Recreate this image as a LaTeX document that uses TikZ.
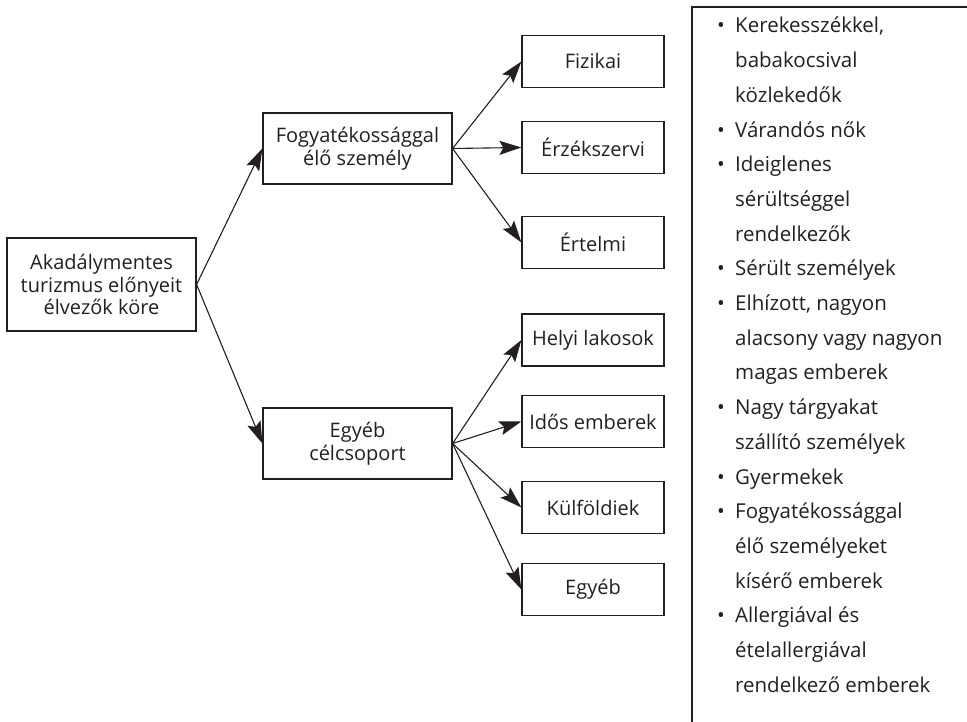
\documentclass[tikz,border=0pt]{standalone}
\usepackage{fontspec}
\setmainfont{Open Sans}
\usetikzlibrary{arrows.meta}
\definecolor{INK}{HTML}{231F20}
\tikzstyle{rootbox} = [rectangle, minimum width=189pt, minimum height=93pt, inner sep=0pt, align=center, draw=INK, line width=1.2pt, text=INK, font=\fontsize{20pt}{22.5pt}\selectfont]
\tikzstyle{groupbox} = [rootbox, minimum height=71pt]
\tikzstyle{leafbox} = [rootbox, minimum width=142pt, minimum height=52pt]
\tikzstyle{listtext} = [inner sep=0pt, align=left, text=INK, font=\fontsize{20.5pt}{34.7pt}\selectfont]
\tikzstyle{arrow} = [line width=1.1pt, draw=INK, -{Stealth[length=22pt,width=14pt,inset=4pt]}]
\newcommand{\bitem}[1]{\makebox[18pt][l]{\textbullet}#1}
\newcommand{\bcont}[1]{\hspace*{18pt}#1}
\begin{document}
\begin{tikzpicture}[node distance=86pt]
\useasboundingbox (-101.5pt,-437.5pt) rectangle (865.5pt,284.5pt);

\node (root) [rootbox] {Akadálymentes\\turizmus előnyeit\\élvezők köre};

\node (fogy) [groupbox, above of=root, xshift=256pt, yshift=50pt] {Fogyatékossággal\\élő személy};
\node (egyeb) [groupbox, below of=root, xshift=256pt, yshift=-73pt] {Egyéb\\célcsoport};

\node (erzek) [leafbox, right of=fogy, xshift=149.5pt, yshift=1pt] {Érzékszervi};
\node (fiz) [leafbox, above of=erzek] {Fizikai};
\node (ertelmi) [leafbox, below of=erzek, yshift=-9pt] {Értelmi};

\node (idos) [leafbox, right of=egyeb, xshift=149.5pt, yshift=22pt] {Idős emberek};
\node (helyi) [leafbox, above of=idos, yshift=-4.5pt] {Helyi lakosok};
\node (kulf) [leafbox, below of=idos] {Külföldiek};
\node (egyebleaf) [leafbox, below of=kulf, yshift=4pt] {Egyéb};

% lista a jobb oldalon
\coordinate (lst) at (590.5pt,277.5pt);
\draw [line width=1.2pt, draw=INK] (lst) ++(275pt,0) -- (lst) -- ++(0,-715pt);
\node (list) [listtext, anchor=north west, xshift=25pt, yshift=-10pt] at (lst) {%
\bitem{Kerekesszékkel,}\\
\bcont{babakocsival}\\
\bcont{közlekedők}\\
\bitem{Várandós nők}\\
\bitem{Ideiglenes}\\
\bcont{sérültséggel}\\
\bcont{rendelkezők}\\
\bitem{Sérült személyek}\\
\bitem{Elhízott, nagyon}\\
\bcont{alacsony vagy nagyon}\\
\bcont{magas emberek}\\
\bitem{Nagy tárgyakat}\\
\bcont{szállító személyek}\\
\bitem{Gyermekek}\\
\bitem{Fogyatékossággal}\\
\bcont{élő személyeket}\\
\bcont{kísérő emberek}\\
\bitem{Allergiával és}\\
\bcont{ételallergiával}\\
\bcont{rendelkező emberek}};

\draw [arrow] (root.east) -- (fogy.west);
\draw [arrow] (root.east) -- (egyeb.west);

\draw [arrow] (fogy.east) -- (fiz.west);
\draw [arrow] (fogy.east) -- (erzek.west);
\draw [arrow] (fogy.east) -- (ertelmi.west);

\draw [arrow] (egyeb.east) -- (helyi.west);
\draw [arrow] (egyeb.east) -- (idos.west);
\draw [arrow] (egyeb.east) -- (kulf.west);
\draw [arrow] (egyeb.east) -- (egyebleaf.west);

\end{tikzpicture}
\end{document}
